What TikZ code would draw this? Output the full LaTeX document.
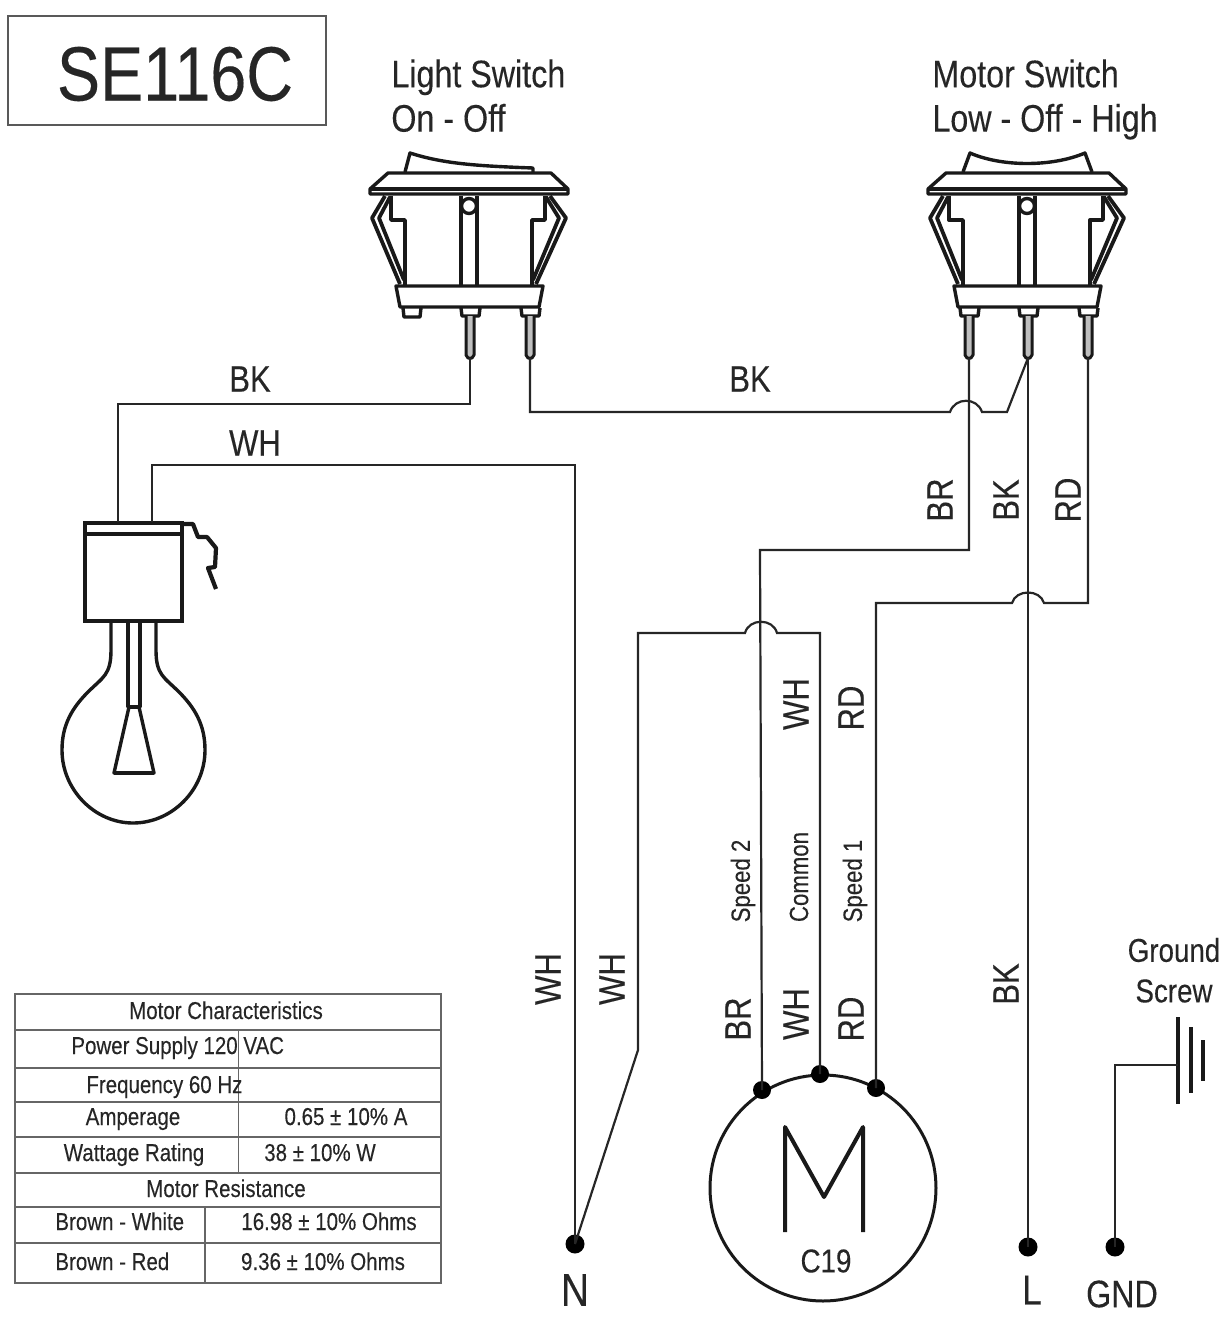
\documentclass[tikz,border=0pt]{standalone}
\usepackage{fontspec}
\setmainfont{Liberation Sans}[FakeStretch=0.84,FakeBold=0.2]
\usepackage{tikz}
\tikzset{
	wire/.style={draw=black!85,line width=1.1pt},
	part/.style={draw=black!90,line width=1.7pt,line join=round},
	clip wire/.style={draw=black!90,line width=1.9pt,line join=round},
	grid line/.style={draw=black!60,line width=0.7pt},
	dot/.style={circle,fill=black,inner sep=0pt,minimum size=#1},
	big label/.style={font=\fontsize{19.2}{19.2}\selectfont,text=black!85,inner sep=0pt},
	wire label/.style={font=\fontsize{18.5}{18.5}\selectfont,text=black!85,inner sep=0pt},
	side label/.style={wire label,rotate=90},
	small label/.style={font=\fontsize{13.2}{13.2}\selectfont,text=black!85,inner sep=0pt},
	table text/.style={font=\fontsize{12.2}{12.2}\selectfont,text=black!85,inner sep=0pt,text height=9pt,text depth=3pt}
}
% switch housing, local origin above the middle pin
\newcommand{\switchbody}{
	\draw[part] (-81,33) -- (82,33) -- (99,49) -- (99,54) -- (-99,54) -- (-99,49) -- cycle;
	\draw[part] (-99,49) -- (99,49);
	\draw[part] (-78,56) -- (-78,80) -- (-64,80) -- (-64,146);
	\draw[part] (76,56) -- (76,80) -- (63,80) -- (63,146);
	\draw[part] (-8,56) -- (-8,146);
	\draw[part] (8,56) -- (8,146);
	\draw[part,fill=white] (0,66) circle (7.5);
	\draw[clip wire] (-84,56) -- (-97,78) -- (-69,144);
	\draw[clip wire] (-79,57) -- (-90,78) -- (-65,140);
	\draw[clip wire] (81,56) -- (97,78) -- (67,144);
	\draw[clip wire] (77,57) -- (90,78) -- (64,140);
	\draw[part] (-73,146) -- (74,146) -- (70,167) -- (-69,167) -- cycle;
}
\newcommand{\switchpin}[1]{
	\draw[part] (#1-9,168) -- (#1-8,176) -- (#1+9,176) -- (#1+10,168);
	\draw[part,line width=1.5pt,fill=black!25] (#1-4,176) -- (#1-4,215) -- (#1-2,218) -- (#1+2,218) -- (#1+4,215) -- (#1+4,176);
}
\begin{document}
\begin{tikzpicture}[x=0.5pt,y=-0.5pt]
\useasboundingbox (0,0) rectangle (1226,1318);

% title
\node[draw=black!65,line width=0.8pt,minimum width=159pt,minimum height=54.5pt,inner sep=0pt] (title) at (167,70.5) {};
\node[font=\fontsize{38.5}{38.5}\selectfont,text=black!85,inner sep=0pt] (titletext) at (175,74) {SE116C};

\node[big label,align=left,anchor=north west] (lightname) at (391,59) {Light Switch\\[3pt]On - Off};
\node[big label,align=left,anchor=north west] (motorname) at (932,59) {Motor Switch\\[3pt]Low - Off - High};

% light switch
\begin{scope}[shift={(469,140)}]
\switchbody
\draw[part] (-64,32) -- (-59,13) .. controls (-25,24) and (10,26) .. (64,28) -- (64,32);
\draw[part] (-66,168) -- (-65,177) -- (-49,177) -- (-48,168);
\switchpin{1}
\switchpin{61}
\end{scope}

% motor switch
\begin{scope}[shift={(1027,140)}]
\switchbody
\draw[part] (-64,32) -- (-57,13) .. controls (-25,27) and (25,27) .. (58,13) -- (65,32);
\switchpin{-58}
\switchpin{1}
\switchpin{61}
\end{scope}

\coordinate (lightpin) at (470,358);
\coordinate (lightload) at (530,358);
\coordinate (lowpin) at (969,358);
\coordinate (linepin) at (1028,358);
\coordinate (highpin) at (1088,358);

% lamp
\node[draw=black!90,line width=1.7pt,minimum width=48.5pt,minimum height=49pt,inner sep=0pt] (socket) at (133.5,572) {};
\draw[part] (85,534) -- (182,534);
\draw[part,line width=2.1pt] (182,524) -- (193,524) -- (198,537) -- (207,537) -- (216,548) -- (215,567) -- (208,568) -- (216,589);
\draw[part] (111,621) -- (111,650) .. controls (111,675) and (103,677) .. (88,692)
	.. controls (72,708) and (62,725) .. (62,750)
	.. controls (62,790) and (95,823) .. (133,823)
	.. controls (172,823) and (205,790) .. (205,750)
	.. controls (205,725) and (195,708) .. (179,692)
	.. controls (164,677) and (156,675) .. (156,650) -- (156,621);
\draw[part] (128,621) -- (128,707) -- (140,707) -- (140,621);
\draw[part] (129,707) -- (114,773) -- (154,773) -- (139,707);
\draw[part,line width=2.4pt] (114,773) -- (154,773);
\coordinate (lampblack) at (118,522);
\coordinate (lampwhite) at (152,522);

% motor
\node[circle,draw=black!90,line width=1.5pt,minimum size=113pt,inner sep=0pt] (motor) at (823,1188) {};
\draw[part,line width=2pt] (785,1232) -- (785,1127) -- (824,1197) -- (863,1127) -- (863,1232);
\node[small label,font=\fontsize{16.5}{16.5}\selectfont] (motorcode) at (826,1261) {C19};
\node[dot=9pt] (speedtwo) at (762,1090) {};
\node[dot=9pt] (common) at (820,1074) {};
\node[dot=9pt] (speedone) at (876,1088) {};

% terminals
\node[dot=9.5pt] (neutral) at (575,1244) {};
\node[dot=9.5pt] (line) at (1028,1247) {};
\node[dot=9.5pt] (ground) at (1115,1247) {};
\node[big label,font=\fontsize{23}{23}\selectfont] (neutraltext) at (575,1290) {N};
\node[big label,font=\fontsize{21}{21}\selectfont] (linetext) at (1032,1290) {L};
\node[big label] (groundtext) at (1122,1294) {GND};

% ground screw
\coordinate (screw) at (1178,1065);
\draw[part,line width=2.2pt] (1178,1017) -- (1178,1104);
\draw[part,line width=2.2pt] (1191,1027) -- (1191,1093);
\draw[part,line width=1.8pt] (1203,1040) -- (1203,1081);
\node[small label,font=\fontsize{16.5}{16.5}\selectfont] (screwone) at (1174,950) {Ground};
\node[small label,font=\fontsize{16.5}{16.5}\selectfont] (screwtwo) at (1174,991) {Screw};

% wires
\draw[wire] (lightpin) |- (118,404) -- (lampblack);
\draw[wire] (lampwhite) |- (575,465) -- (neutral.center);
\draw[wire] (lightload) |- (950,412) .. controls +(5,-15) and +(-5,-15) .. (982,412) -- (1007,412) -- (linepin);
\draw[wire] (lowpin) |- (760,550) -- (speedtwo.center);
\draw[wire] (linepin) -- (line.center);
\draw[wire] (highpin) |- (1044,603) .. controls +(-4,-14) and +(4,-14) .. (1012,603) -| (speedone.center);
\draw[wire] (neutral.center) -- (638,1050) |- (745,633) .. controls +(4,-15) and +(-4,-15) .. (777,633) -| (common.center);
\draw[wire] (ground.center) |- (screw);

% wire labels
\node[wire label] (topbk) at (250,379) {BK};
\node[wire label] (midbk) at (750,379) {BK};
\node[wire label] (topwh) at (255,443) {WH};
\node[side label] (lowbr) at (940,500) {BR};
\node[side label] (linebk) at (1006,500) {BK};
\node[side label] (highrd) at (1068,500) {RD};
\node[side label] (commonwh) at (796,704) {WH};
\node[side label] (speedrd) at (851,708) {RD};
\node[side label,small label] (speedtwotext) at (743,881) {Speed 2};
\node[side label,small label] (commontext) at (799,877) {Common};
\node[side label,small label] (speedonetext) at (855,881) {Speed 1};
\node[side label] (motorbr) at (738,1019) {BR};
\node[side label] (motorwh) at (796,1014) {WH};
\node[side label] (motorrd) at (851,1019) {RD};
\node[side label] (neutralwh) at (548,979) {WH};
\node[side label] (feedwh) at (612,979) {WH};
\node[side label] (linebktwo) at (1006,984) {BK};

% table
\draw[grid line,line width=1pt] (15,994) rectangle (441,1283);
\foreach \rowy in {1030,1068,1102,1137,1173,1207,1243}
	\draw[grid line] (15,\rowy) -- (441,\rowy);
\draw[grid line] (238.5,1030) -- (238.5,1173);
\draw[grid line] (205,1207) -- (205,1283);
\node[table text] (motorhead) at (226,1013) {Motor Characteristics};
\node[table text,anchor=west] (supply) at (71,1048) {Power Supply 120};
\node[table text,anchor=west] (vac) at (243,1048) {VAC};
\node[table text,anchor=west] (freq) at (86,1087) {Frequency 60 Hz};
\node[table text] (amp) at (133,1119) {Amperage};
\node[table text] (ampval) at (346,1119) {0.65 ± 10\% A};
\node[table text] (watt) at (134,1155) {Wattage Rating};
\node[table text] (wattval) at (320,1155) {38 ± 10\% W};
\node[table text] (reshead) at (226,1191) {Motor Resistance};
\node[table text,anchor=west] (brwh) at (55,1224) {Brown - White};
\node[table text] (brwhval) at (329,1224) {16.98 ± 10\% Ohms};
\node[table text,anchor=west] (brrd) at (55,1264) {Brown - Red};
\node[table text] (brrdval) at (323,1264) {9.36 ± 10\% Ohms};
\end{tikzpicture}
\end{document}
